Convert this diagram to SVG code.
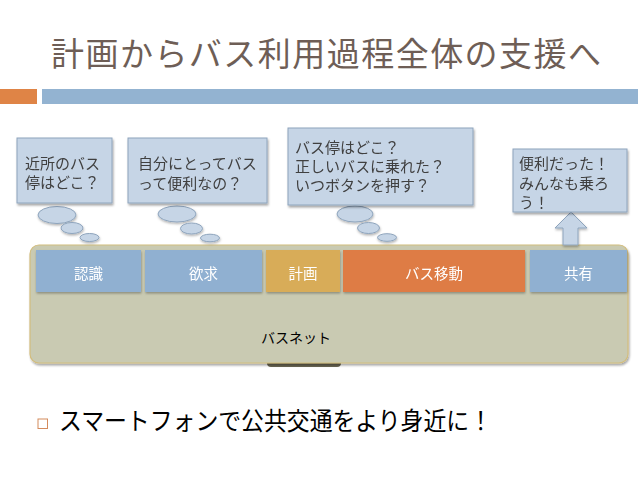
<svg xmlns="http://www.w3.org/2000/svg" width="638" height="479" viewBox="0 0 638 479">
  <defs>
    <filter id="sh" x="-10%" y="-10%" width="125%" height="135%">
      <feDropShadow dx="1" dy="2" stdDeviation="1.2" flood-color="#000" flood-opacity="0.35"/>
    </filter>
    <filter id="shs" x="-10%" y="-10%" width="125%" height="140%">
      <feDropShadow dx="0.5" dy="1.5" stdDeviation="0.8" flood-color="#000" flood-opacity="0.3"/>
    </filter>
  </defs>
  <style>
    .jp { font-family: "Noto Sans CJK JP", "Noto Sans CJK SC", sans-serif; }
    .title { font-size: 33px; fill: #6e5e56; }
    .bub { fill: #c6d5e6; stroke: #8ea4bc; stroke-width: 1; }
    .btxt { font-size: 15px; fill: #404040; }
    .stage { font-size: 14.5px; fill: #ffffff; text-anchor: middle; }
    .blue { fill: #90b0d1; }
  </style>
  <rect width="638" height="479" fill="#ffffff"/>

  <g id="header">
    <text class="jp title" x="51" y="65.5" textLength="550" lengthAdjust="spacing">計画からバス利用過程全体の支援へ</text>
    <rect x="0" y="89" width="37" height="15" fill="#df8446"/>
    <rect x="42" y="89" width="596" height="15" fill="#93b3d1"/>
  </g>

  <g id="basenet">
    <rect x="267" y="348" width="74" height="19" rx="4" fill="#6b6754"/>
    <rect x="30" y="245" width="598" height="118" rx="9" fill="#c9cab2" stroke="#d2bd7e" stroke-width="1.2" filter="url(#sh)"/>
    <text class="jp" x="296" y="343" font-size="14" fill="#000" text-anchor="middle">バスネット</text>
  </g>

  <g id="stage-ninshiki" filter="url(#shs)">
    <rect class="blue" x="36" y="250" width="105" height="42"/>
    <text class="jp stage" x="88.5" y="279">認識</text>
  </g>
  <g id="stage-yokkyu" filter="url(#shs)">
    <rect class="blue" x="145" y="250" width="117" height="42"/>
    <text class="jp stage" x="203.5" y="279">欲求</text>
  </g>
  <g id="stage-keikaku" filter="url(#shs)">
    <rect x="266" y="250" width="74" height="42" fill="#d8ac58"/>
    <text class="jp stage" x="303" y="279">計画</text>
  </g>
  <g id="stage-idou" filter="url(#shs)">
    <rect x="343" y="250" width="182" height="42" fill="#de7c44"/>
    <text class="jp stage" x="434" y="279">バス移動</text>
  </g>
  <g id="stage-kyouyuu" filter="url(#shs)">
    <rect class="blue" x="530" y="250" width="97" height="42"/>
    <text class="jp stage" x="578.5" y="279">共有</text>
  </g>

  <g id="connectors" filter="url(#shs)">
    <ellipse class="bub" cx="57" cy="215" rx="19" ry="8.5"/>
    <ellipse class="bub" cx="72" cy="228" rx="11" ry="5.5"/>
    <ellipse class="bub" cx="89.5" cy="237.5" rx="9.5" ry="4"/>
    <ellipse class="bub" cx="177" cy="214" rx="19" ry="8"/>
    <ellipse class="bub" cx="191.5" cy="228.5" rx="11" ry="5.5"/>
    <ellipse class="bub" cx="210" cy="238" rx="9.5" ry="3.8"/>
    <ellipse class="bub" cx="355" cy="214" rx="18" ry="8"/>
    <ellipse class="bub" cx="368.5" cy="228" rx="11" ry="5.5"/>
    <ellipse class="bub" cx="387" cy="237.5" rx="9.5" ry="3.8"/>
    <polygon class="bub" points="571,212 587,228 578,228 578,245 563,245 563,228 555,228"/>
  </g>

  <g id="bubble-1" filter="url(#sh)">
    <rect class="bub" x="17" y="138" width="95" height="65"/>
    <text class="jp btxt" x="25" y="168.5">近所のバス</text>
    <text class="jp btxt" x="25" y="188">停はどこ？</text>
  </g>
  <g id="bubble-2" filter="url(#sh)">
    <rect class="bub" x="128" y="138" width="139" height="65"/>
    <text class="jp btxt" x="138" y="169">自分にとってバス</text>
    <text class="jp btxt" x="138" y="189">って便利なの？</text>
  </g>
  <g id="bubble-3" filter="url(#sh)">
    <rect class="bub" x="288" y="128" width="185" height="77"/>
    <text class="jp btxt" x="295" y="152.5">バス停はどこ？</text>
    <text class="jp btxt" x="295" y="172">正しいバスに乗れた？</text>
    <text class="jp btxt" x="295" y="191">いつボタンを押す？</text>
  </g>
  <g id="bubble-4" filter="url(#sh)">
    <rect class="bub" x="513" y="149" width="114" height="63"/>
    <text class="jp btxt" x="519" y="169">便利だった！</text>
    <text class="jp btxt" x="519" y="189">みんなも乗ろ</text>
    <text class="jp btxt" x="519" y="208">う！</text>
  </g>

  <g id="bullet">
    <rect x="38" y="419" width="9.5" height="9.5" fill="#ffffff" stroke="#d48b5d" stroke-width="1"/>
    <text class="jp" x="59" y="429.5" font-size="24.5" fill="#000" textLength="433" lengthAdjust="spacingAndGlyphs">スマートフォンで公共交通をより身近に！</text>
  </g>
</svg>
